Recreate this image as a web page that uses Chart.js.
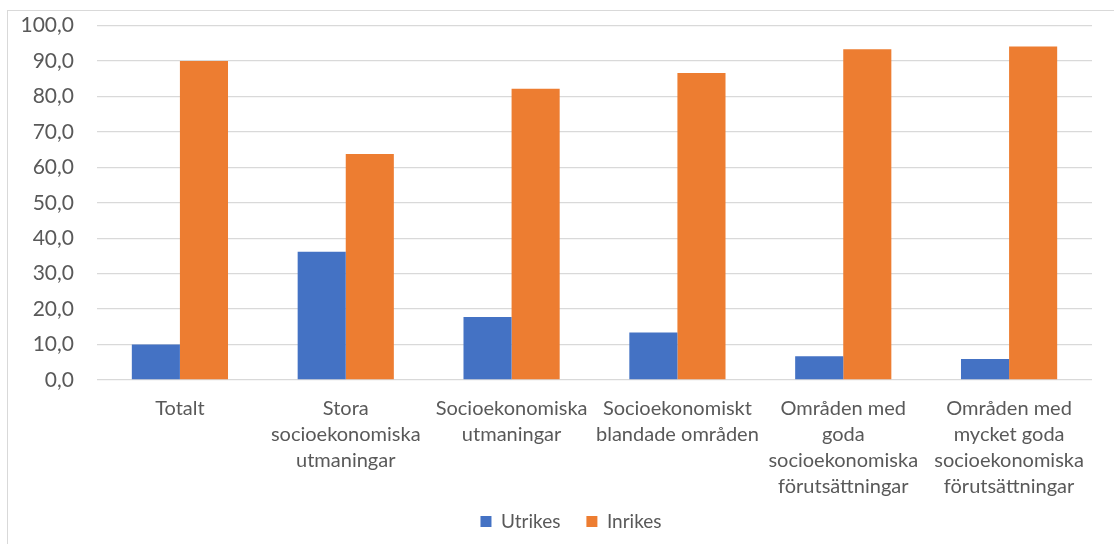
<!DOCTYPE html>
<html>
<head>
<meta charset="utf-8">
<script src="https://cdn.jsdelivr.net/npm/chart.js@4.4.1/dist/chart.umd.min.js"></script>
<style>
  html, body { margin: 0; padding: 0; background: #fff; }
  #wrap { position: relative; width: 1114px; height: 544px; overflow: hidden; }
  #frame { position: absolute; left: 7px; top: 10px; width: 1200px; height: 600px; border: 1px solid #d9d9d9; box-sizing: border-box; }
  #chart { position: absolute; left: 0; top: -10px; }
</style>
</head>
<body>
<div id="wrap">
  <div id="frame"></div>
  <canvas id="chart" width="1114" height="554"></canvas>
</div>
<script>
// Andel utrikes/inrikes födda per områdestyp (procent)
const categories = [
  'Totalt',
  ['Stora', 'socioekonomiska', 'utmaningar'],
  ['Socioekonomiska', 'utmaningar'],
  ['Socioekonomiskt', 'blandade områden'],
  ['Områden med', 'goda', 'socioekonomiska', 'förutsättningar'],
  ['Områden med', 'mycket goda', 'socioekonomiska', 'förutsättningar'],
];
const utrikes = [10.0, 36.2, 17.8, 13.4, 6.7, 5.9];
const inrikes = [90.0, 63.8, 82.2, 86.6, 93.3, 94.1];
const yTicks = [0, 10, 20, 30, 40, 50, 60, 70, 80, 90, 100];

const FONT = 'Lato, "Open Sans", sans-serif';
const TEXT = '#595959';
const GRID = '#d9d9d9';

const fmt = v => v.toFixed(1).replace('.', ',');

// tick labels that run outside their scale box are still drawn in full
const unclip = axis => {
  axis._computeLabelArea = () => ({ top: 0, left: 0, bottom: axis.chart.height, right: axis.chart.width });
};

new Chart(document.getElementById('chart').getContext('2d'), {
  type: 'bar',
  data: {
    labels: categories,
    datasets: [
      { label: 'Utrikes', data: utrikes, backgroundColor: '#4472c4', borderWidth: 0 },
      { label: 'Inrikes', data: inrikes, backgroundColor: '#ed7d31', borderWidth: 0 },
    ],
  },
  options: {
    responsive: false,
    animation: false,
    devicePixelRatio: 1,
    categoryPercentage: 0.58,
    barPercentage: 1,
    layout: { padding: { top: 0, right: 22, left: 50, bottom: 3 } },
    plugins: {
      tooltip: { enabled: false },
      legend: {
        position: 'bottom',
        labels: {
          boxWidth: 11, boxHeight: 11, padding: 26,
          color: TEXT,
          font: { family: FONT, size: 19 },
        },
      },
    },
    scales: {
      x: {
        grid: { display: false },
        border: { display: false },
        ticks: {
          color: TEXT,
          padding: 8,
          maxRotation: 0,
          autoSkip: false,
          font: { family: FONT, size: 20, lineHeight: 1.3 },
        },
        afterFit: axis => { axis.height = 106; unclip(axis); },
      },
      y: {
        min: 0, max: 100,
        afterBuildTicks: axis => { axis.ticks = yTicks.map(v => ({ value: v })); },
        grid: { color: GRID, lineWidth: 1.3, drawTicks: false },
        border: { display: false },
        ticks: {
          color: TEXT,
          padding: 23,
          font: { family: FONT, size: 21 },
          callback: v => fmt(v),
        },
        afterFit: axis => { axis.width = 47; unclip(axis); },
      },
    },
  },
});
</script>
</body>
</html>
